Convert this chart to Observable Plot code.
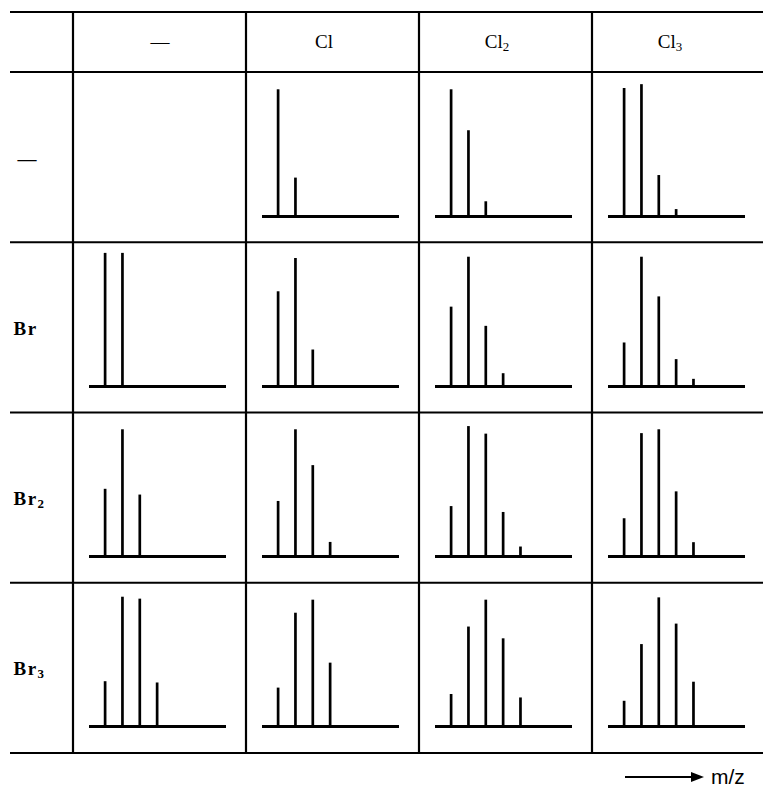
<!DOCTYPE html>
<html>
<head>
<meta charset="utf-8">
<script src="https://cdn.jsdelivr.net/npm/d3@7"></script>
<script src="https://cdn.jsdelivr.net/npm/@observablehq/plot@0.6"></script>
<style>
  html, body { margin: 0; padding: 0; background: #fff; overflow: hidden; }
  #chart svg { display: block; }
  g[aria-label="fy-axis tick label"] text { letter-spacing: 1.5px; }
</style>
</head>
<body>
<div id="chart"></div>
<script>
// Column headers (number of chlorine atoms) and row headers (number of bromine atoms)
const chlorineLabels = ["—", "Cl", "Cl₂", "Cl₃"];
const bromineLabels = ["—", "Br", "Br₂", "Br₃"];

// Relative peak heights (M, M+2, M+4, ...), one array per row
const noBromine    = [[], [99, 30], [99, 67, 11.5], [100, 103, 32, 5.4]];
const oneBromine   = [[104, 104], [74, 100, 28.5], [62, 101, 47, 10], [34, 101, 70, 21, 5.6]];
const twoBromine   = [[52.5, 99, 48], [43, 99, 71, 11], [39, 101.5, 95.6, 34.4, 7.4], [29.5, 96, 99, 50.5, 10.8]];
const threeBromine = [[35, 101, 99.5, 34], [30, 88.5, 98.7, 49.5], [25, 77.7, 98.7, 68.5, 22.3], [19.7, 64, 100.5, 80, 34.6]];
const rows = [noBromine, oneBromine, twoBromine, threeBromine];

const peaks = [];
const cells = [];
rows.forEach((row, r) => row.forEach((heights, c) => {
  if (heights.length) cells.push({br: bromineLabels[r], cl: chlorineLabels[c]});
  heights.forEach((h, i) => peaks.push({br: bromineLabels[r], cl: chlorineLabels[c], step: i, intensity: h}));
}));

const W = 763, H = 798, ML = 73, MT = 72, MB = 45, MR = -2;
const serif = "'Liberation Serif', 'DejaVu Serif', 'Times New Roman', serif";

const plot = Plot.plot({
  width: W, height: H,
  marginLeft: ML, marginTop: MT, marginBottom: MB, marginRight: MR,
  style: {background: "white", color: "black", overflow: "hidden"},
  fx: {domain: chlorineLabels, padding: 0},
  fy: {domain: bromineLabels, padding: 0},
  x: {domain: [-0.9, 7], insetLeft: 16, insetRight: 20, axis: null},
  y: {domain: [0, 100], insetTop: 15, insetBottom: 27, axis: null},
  marks: [
    Plot.ruleY(cells, {fx: "cl", fy: "br", y: () => 0, insetLeft: 16, insetRight: 20, stroke: "black", strokeWidth: 3}),
    Plot.ruleX(peaks, {fx: "cl", fy: "br", x: "step", y: "intensity", stroke: "black", strokeWidth: 2.7}),
    Plot.axisFx({anchor: "top", tickSize: 0, tickPadding: 26, fontSize: 19, fontFamily: serif, label: null}),
    Plot.axisFy({anchor: "left", tickSize: 0, tickPadding: 60, textAnchor: "start", fontSize: 19, fontWeight: "bold", fontFamily: serif, label: null})
  ]
});
document.getElementById("chart").appendChild(plot);

const svg = d3.select(plot);

// Render unicode subscripts as proper lowered digits; nudge labels like the original
const sub = {"₀": "0", "₁": "1", "₂": "2", "₃": "3", "₄": "4", "₅": "5", "₆": "6", "₇": "7", "₈": "8", "₉": "9"};
function styleLabel(node, isFx) {
  const t = d3.select(node);
  const s = t.text();
  if (s === "—") {
    if (!isFx) t.attr("dx", 4);
    return;
  }
  if (isFx) t.attr("dx", -9);
  const last = s[s.length - 1];
  if (sub[last]) {
    t.text(s.slice(0, -1));
    t.append("tspan").attr("dy", "0.28em").attr("font-size", "0.68em").text(sub[last]);
  }
}
svg.selectAll('g[aria-label="fx-axis tick label"] text').each(function () { styleLabel(this, true); });
svg.selectAll('g[aria-label="fy-axis tick label"] text').each(function () { styleLabel(this, false); });

// Table rules
const colStep = (W - ML - MR) / 4;
const rowStep = (H - MT - MB) / 4;
const colEdges = d3.range(4).map(k => ML + k * colStep);
const rowEdges = [12].concat(d3.range(5).map(k => MT + k * rowStep));
const grid = svg.append("g").attr("stroke", "black").attr("stroke-width", 2.2);
rowEdges.forEach(y => grid.append("line").attr("x1", 10).attr("x2", W).attr("y1", y).attr("y2", y));
colEdges.forEach(x => grid.append("line").attr("x1", x).attr("x2", x).attr("y1", 12).attr("y2", H - MB));

// m/z arrow
const ann = svg.append("g");
ann.append("line").attr("x1", 625).attr("x2", 697).attr("y1", 777).attr("y2", 777).attr("stroke", "black").attr("stroke-width", 2);
ann.append("path").attr("d", "M691,772 L704,777 L691,782 Z").attr("fill", "black");
ann.append("text").attr("x", 711).attr("y", 784).attr("text-anchor", "start")
  .attr("font-family", "'Liberation Sans', Arial, sans-serif")
  .attr("font-size", 21).attr("fill", "black").text("m/z");
</script>
</body>
</html>
